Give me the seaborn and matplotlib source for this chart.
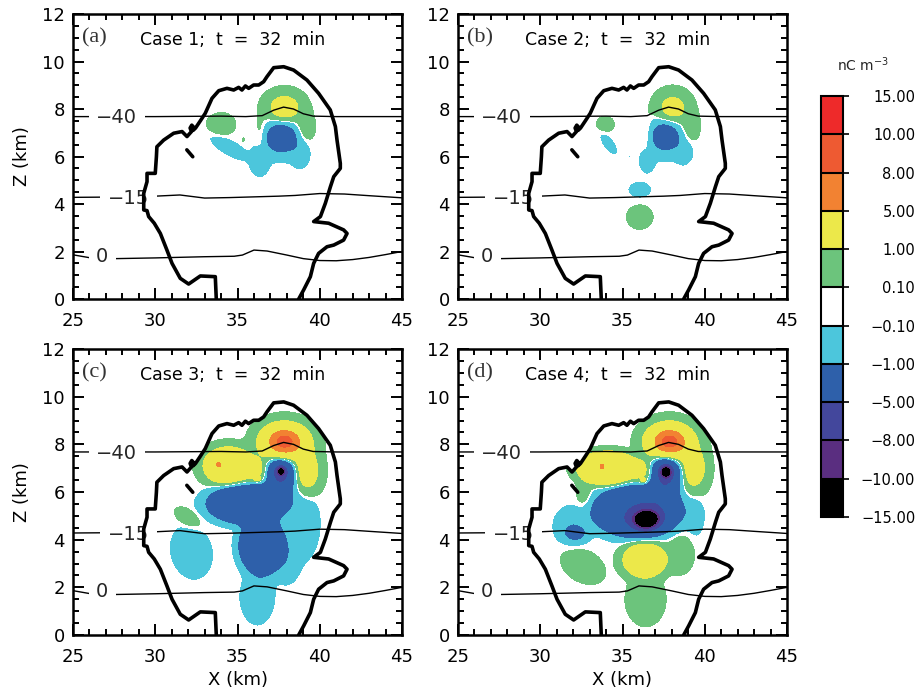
import numpy as np
import matplotlib
matplotlib.use("Agg")
import matplotlib.pyplot as plt
import seaborn as sns
from matplotlib.colors import ListedColormap, BoundaryNorm
from matplotlib.path import Path
from matplotlib.ticker import MultipleLocator

# ---------------- data ----------------
levels = [-15, -10, -8, -5, -1, -0.1, 0.1, 1, 5, 8, 10, 15]
level_labels = ["\u221215.00", "\u221210.00", "\u22128.00", "\u22125.00", "\u22121.00",
                "\u22120.10", "0.10", "1.00", "5.00", "8.00", "10.00", "15.00"]
level_colors = ["#000000", "#5a2e80", "#43479c", "#2e60aa", "#4cc6dc", "#ffffff",
                "#6cc47c", "#ece84a", "#f28232", "#ee5a32", "#ee2a2a"]

panel_letters = ["(a)", "(b)", "(c)", "(d)"]
panel_titles = ["Case 1;  t  =  32  min", "Case 2;  t  =  32  min",
                "Case 3;  t  =  32  min", "Case 4;  t  =  32  min"]

# cloud boundary (thick black outline)
cloud_x = [33.71, 33.65, 32.74, 32.03, 31.52, 31.02, 30.71, 30.31, 29.94, 29.6, 29.5, 29.3,
           29.3, 29.5, 29.5, 30.0, 30.07, 30.1, 30.51, 31.12, 31.63, 31.93, 32.2, 32.12,
           32.22, 32.35, 32.3, 32.45, 32.74, 33.04, 33.45, 33.86, 34.36, 34.77, 35.07,
           35.27, 35.48, 35.68, 35.98, 36.29, 36.59, 36.79, 37.2, 37.81, 38.41, 39.22,
           39.93, 40.64, 40.95, 41.05, 41.25, 41.25, 40.85, 40.65, 40.34, 40.04, 39.63,
           40.54, 41.45, 41.66, 41.45, 40.85, 40.44, 39.93, 39.63, 39.43, 39.02, 38.72]
cloud_z = [0.0, 0.94, 0.97, 0.63, 0.87, 1.5, 2.06, 2.76, 3.19, 3.47, 3.72, 3.75,
           4.45, 4.94, 5.29, 5.29, 5.99, 6.41, 6.69, 6.98, 7.05, 6.84, 7.05, 7.2,
           7.32, 7.22, 7.1, 7.2, 7.5, 7.82, 8.45, 8.77, 8.87, 8.8, 8.91,
           8.8, 8.97, 8.87, 9.01, 9.01, 9.15, 9.36, 9.74, 9.78, 9.64, 9.22,
           8.66, 7.96, 7.26, 6.69, 5.71, 5.5, 5.15, 4.73, 4.03, 3.47, 3.26,
           3.19, 2.91, 2.76, 2.48, 2.27, 2.2, 1.92, 1.5, 0.94, 0.38, 0.0]
dash_x = [31.92, 32.28]
dash_z = [6.28, 5.99]

# isotherms (deg C)
iso_m40_x = [25, 30, 34, 35.5, 36.5, 37.2, 37.8, 38.4, 39.0, 39.6, 41, 45]
iso_m40_z = [7.68, 7.68, 7.70, 7.68, 7.72, 7.95, 8.08, 8.0, 7.80, 7.70, 7.68, 7.68]
iso_m15_x = [25, 27, 30, 31.5, 33, 34.5, 36, 37.5, 38.5, 40, 41.5, 43, 45]
iso_m15_z = [4.28, 4.29, 4.33, 4.38, 4.25, 4.27, 4.30, 4.33, 4.36, 4.44, 4.42, 4.35, 4.26]
iso_0_x = [25, 26, 27.6, 30, 33, 34.8, 35.3, 36, 36.8, 38, 39, 40, 41, 42, 43, 44, 45]
iso_0_z = [1.86, 1.74, 1.70, 1.73, 1.78, 1.80, 1.85, 2.06, 2.02, 1.85, 1.70, 1.62, 1.61,
           1.66, 1.75, 1.87, 2.0]
iso_labels = ["\u221240", "\u221215", "0"]
iso_label_x = [27.65, 28.37, 26.78]

# charge regions (nC m^-3): centre x, centre z, half-widths, peak, tilt, edge sharpness
case1_x = [37.85, 36.45, 39.1, 37.65, 36.35, 38.8, 34.0, 34.5, 35.35]
case1_z = [8.05, 6.9, 7.2, 6.8, 5.8, 6.1, 7.35, 6.38, 6.7]
case1_sx = [0.65, 0.25, 0.35, 0.65, 0.35, 0.35, 0.5, 0.7, 0.07]
case1_sz = [0.38, 0.45, 0.4, 0.42, 0.35, 0.35, 0.28, 0.2, 0.1]
case1_q = [2.2, 0.5, 0.6, -3.2, -0.7, -0.6, 0.5, -0.6, 0.15]
case1_tilt = [0, 0, 0, 0, 0, 0, 0, -20, 0]
case1_p = [2, 2, 2, 2, 2, 2, 2, 2, 2]

case2_x = [38.05, 36.5, 39.1, 37.6, 36.5, 38.7, 33.95, 34.15, 35.4, 36.05, 36.05]
case2_z = [8.05, 6.95, 7.25, 6.85, 5.8, 6.2, 7.35, 6.55, 6.02, 4.6, 3.45]
case2_sx = [0.6, 0.22, 0.35, 0.6, 0.3, 0.35, 0.35, 0.4, 0.12, 0.4, 0.44]
case2_sz = [0.4, 0.45, 0.4, 0.42, 0.3, 0.32, 0.22, 0.18, 0.05, 0.2, 0.28]
case2_q = [1.8, 0.45, 0.55, -2.8, -0.5, -0.55, 0.35, -0.4, -0.15, -0.5, 0.55]
case2_tilt = [0, 0, 0, 0, 0, 0, 0, -40, 0, 0, 0]
case2_p = [2, 2, 2, 2, 2, 2, 2, 2, 2, 2, 2]

case3_x = [37.85, 39.2, 34.45, 33.85, 36.2, 32.0, 36.3, 37.5,
           37.65, 37.65, 37.6, 35.6, 36.5, 39.1, 38.0, 36.2, 32.2]
case3_z = [8.1, 6.9, 7.1, 7.15, 6.55, 4.9, 6.9, 5.8,
           6.88, 6.85, 6.6, 5.5, 3.75, 4.7, 3.2, 1.6, 3.5]
case3_sx = [0.8, 0.5, 1.14, 0.1, 0.12, 0.5, 0.45, 0.12,
            0.18, 0.45, 0.6, 2.0, 1.15, 0.5, 0.5, 0.55, 0.65]
case3_sz = [0.42, 0.55, 0.59, 0.08, 0.06, 0.22, 0.35, 0.08,
            0.13, 0.33, 0.6, 0.7, 1.0, 0.8, 0.6, 0.6, 0.55]
case3_q = [9.5, 2.5, 3.5, 3.5, 2.5, 0.5, 1.5, 1.5,
           -8, -4, -3.5, -4, -4, -0.7, -0.6, -0.8, -0.95]
case3_tilt = [0, 0, 0, 0, 0, -20, 0, 0, 0, 0, 0, 0, 0, 0, 0, 0, -25]
case3_p = [2, 2, 3, 2, 2, 2, 2, 2, 2, 2, 2, 4, 4, 2, 2, 2, 2]

case4_x = [37.85, 39.3, 34.1, 33.75, 36.25, 36.3, 32.7, 36.35, 36.4, 38.5, 32.6, 37.6,
           37.65, 37.65, 37.6, 35.9, 36.45, 32.15, 31.9, 39.4]
case4_z = [8.1, 7.0, 7.0, 7.07, 6.5, 6.85, 5.9, 3.15, 1.5, 3.4, 2.9, 5.8,
           6.86, 6.85, 6.6, 5.2, 4.85, 4.25, 4.6, 5.0]
case4_sx = [0.78, 0.5, 1.54, 0.1, 0.1, 0.45, 0.3, 1.0, 0.6, 0.45, 0.75, 0.12,
            0.25, 0.5, 0.6, 2.2, 0.55, 0.45, 0.6, 0.35]
case4_sz = [0.42, 0.55, 0.59, 0.08, 0.06, 0.35, 0.45, 0.54, 0.55, 0.45, 0.38, 0.08,
            0.18, 0.4, 0.6, 0.9, 0.28, 0.22, 0.45, 0.5]
case4_q = [9.5, 2.5, 3.2, 3.5, 2.5, 1.5, 0.5, 3.2, 0.9, 0.7, 0.6, 1.5,
           -8, -4, -3.5, -4.5, -14, -1.8, -0.7, -0.5]
case4_tilt = [0, 0, 0, 0, 0, 0, 0, 0, 0, 0, -15, 0, 0, 0, 0, 0, 0, 0, 0, 0]
case4_p = [2, 2, 4, 2, 2, 2, 2, 3, 2, 2, 2, 2, 2, 2, 2, 4, 2, 2, 2, 2]

cases = [
    (case1_x, case1_z, case1_sx, case1_sz, case1_q, case1_tilt, case1_p),
    (case2_x, case2_z, case2_sx, case2_sz, case2_q, case2_tilt, case2_p),
    (case3_x, case3_z, case3_sx, case3_sz, case3_q, case3_tilt, case3_p),
    (case4_x, case4_z, case4_sx, case4_sz, case4_q, case4_tilt, case4_p),
]

# ---------------- grid and field ----------------
gx = np.linspace(25, 45, 801)
gz = np.linspace(0, 12, 961)
GX, GZ = np.meshgrid(gx, gz)
poly = np.column_stack([cloud_x + [cloud_x[0]], cloud_z + [cloud_z[0]]])
inside = Path(poly).contains_points(np.column_stack([GX.ravel(), GZ.ravel()])).reshape(GX.shape)


def charge_field(bx, bz, sx, sz, q, tilt, pw):
    f = np.zeros_like(GX)
    for x0, z0, a, b, amp, t, p in zip(bx, bz, sx, sz, q, tilt, pw):
        th = np.deg2rad(t)
        dx = GX - x0
        dz = GZ - z0
        u = dx * np.cos(th) + dz * np.sin(th)
        v = -dx * np.sin(th) + dz * np.cos(th)
        r2 = (u / a) ** 2 + (v / b) ** 2
        f += amp * np.exp(-0.5 * r2 ** (p / 2.0))
    f[~inside] = 0.0
    return np.clip(f, -14.9, 14.9)


# ---------------- figure ----------------
sns.set_theme(style="ticks")
plt.rcParams["font.family"] = ["DejaVu Sans"]
plt.rcParams["axes.linewidth"] = 1.6
plt.rcParams["axes.axisbelow"] = False

fig = plt.figure(figsize=(9.21, 6.93), dpi=100)
W, H = 921.0, 693.0
boxes = [(73, 14, 402, 299), (458, 14, 787, 299), (73, 349, 402, 635), (458, 349, 787, 635)]

cmap = ListedColormap(level_colors)
norm = BoundaryNorm(levels, cmap.N)

cs = None
for i, (l, t, r, b) in enumerate(boxes):
    ax = fig.add_axes([l / W, 1 - b / H, (r - l) / W, (b - t) / H])
    ax.set_axisbelow(False)
    f = charge_field(*cases[i])
    cs = ax.contourf(GX, GZ, f, levels=levels, cmap=cmap, norm=norm, zorder=1)

    for xs, zs in [(iso_m40_x, iso_m40_z), (iso_m15_x, iso_m15_z), (iso_0_x, iso_0_z)]:
        sns.lineplot(x=xs, y=zs, sort=False, estimator=None, color="black",
                     linewidth=1.0, ax=ax, zorder=2)
    for lab, lx, zs in zip(iso_labels, iso_label_x, [iso_m40_z, iso_m15_z, iso_0_z]):
        ax.text(lx, zs[0] - 0.05, lab, fontsize=14, ha="center", va="center", zorder=3,
                bbox=dict(facecolor="white", edgecolor="none", pad=5.5))

    sns.lineplot(x=cloud_x, y=cloud_z, sort=False, estimator=None, color="black",
                 linewidth=2.6, ax=ax, zorder=4)
    sns.lineplot(x=dash_x, y=dash_z, sort=False, estimator=None, color="black",
                 linewidth=2.6, ax=ax, zorder=4)

    ax.text(25.55, 11.0, panel_letters[i], fontsize=16, family="Liberation Serif",
            ha="left", va="center", color="#333333", zorder=5)
    ax.text(29.05, 10.92, panel_titles[i], fontsize=12.5, ha="left", va="center",
            color="black", zorder=5)

    ax.set_xlim(25, 45)
    ax.set_ylim(0, 12)
    ax.set_xticks([25, 30, 35, 40, 45])
    ax.set_yticks([0, 2, 4, 6, 8, 10, 12])
    ax.xaxis.set_minor_locator(MultipleLocator(1))
    ax.yaxis.set_minor_locator(MultipleLocator(0.5))
    ax.tick_params(which="both", direction="in", top=True, right=True, width=1.4,
                   labelsize=13, colors="black")
    ax.tick_params(which="major", length=8)
    ax.tick_params(which="minor", length=4)
    ax.tick_params(axis="x", pad=9)
    ax.tick_params(axis="y", pad=6)
    for s in ax.spines.values():
        s.set_color("black")
        s.set_linewidth(1.8)
        s.set_zorder(6)
    ax.set_xlabel("X (km)" if i >= 2 else "", fontsize=13, color="black")
    ax.set_ylabel("Z (km)" if i % 2 == 0 else "", fontsize=13, labelpad=8, color="black")

cax = fig.add_axes([821 / W, 1 - 517 / H, 22 / W, 421 / H])
cb = fig.colorbar(cs, cax=cax, ticks=levels, drawedges=True)
cb.ax.set_yticklabels(level_labels, ha="right")
cb.ax.tick_params(direction="out", length=4, width=1.2, labelsize=10.5, pad=48, colors="black")
cb.outline.set_linewidth(1.5)
cb.outline.set_edgecolor("black")
cb.dividers.set_color("black")
cb.dividers.set_linewidth(1.5)
fig.text(863 / W, 1 - 65 / H, "nC m$^{-3}$", fontsize=10, ha="center", va="center")

fig.savefig("out.png", dpi=100)
